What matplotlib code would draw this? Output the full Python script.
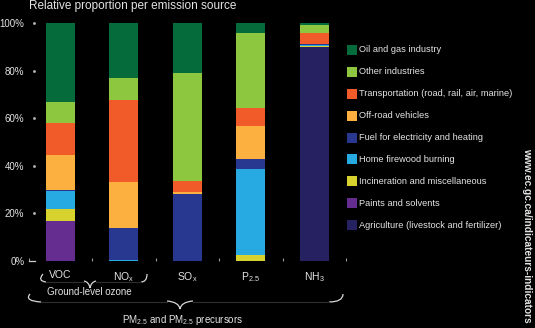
import matplotlib
matplotlib.use("Agg")
import matplotlib.pyplot as plt
from matplotlib.patches import Rectangle, PathPatch
from matplotlib.path import Path
import numpy as np

plt.rcParams['font.family'] = ['Liberation Sans', 'DejaVu Sans']
plt.rcParams['mathtext.default'] = 'regular'

# Pollutants (x categories)
pollutants = [r"VOC", r"NO$_x$", r"SO$_x$", r"P$_{2.5}$", r"NH$_3$"]

# Share of each emission source per pollutant (%)
oil_gas      = [33.3, 23.1, 20.9, 4.1, 0.7]
other_ind    = [8.8, 9.3, 45.5, 31.5, 3.5]
transport    = [13.5, 34.5, 4.5, 7.6, 4.6]
off_road     = [14.7, 19.4, 0.8, 13.9, 0.0]
fuel         = [0.4, 13.3, 28.3, 4.3, 0.4]
firewood     = [7.6, 0.4, 0.0, 36.1, 0.4]
incineration = [5.0, 0.0, 0.0, 2.5, 0.4]
paints       = [16.7, 0.0, 0.0, 0.0, 0.0]
agriculture  = [0.0, 0.0, 0.0, 0.0, 90.0]

source_labels = [
    "Oil and gas industry",
    "Other industries",
    "Transportation (road, rail, air, marine)",
    "Off-road vehicles",
    "Fuel for electricity and heating",
    "Home firewood burning",
    "Incineration and miscellaneous",
    "Paints and solvents",
    "Agriculture (livestock and fertilizer)",
]
source_values = [oil_gas, other_ind, transport, off_road, fuel,
                 firewood, incineration, paints, agriculture]
source_colors = ["#066b3a", "#8dc63f", "#f15a29", "#fbb040", "#283891",
                 "#27aae1", "#d7d22e", "#662d91", "#262262"]

y_ticks = [0, 20, 40, 60, 80, 100]

W, H = 535, 328
BG = "black"
FG = "#e4e4e4"

fig = plt.figure(figsize=(W / 100, H / 100), dpi=100, facecolor=BG)


def fx(x):
    return x / W


def fy(y):
    return 1 - y / H


ax_left, ax_right, ax_top, ax_bottom = 28.5, 346, 23, 261
ax = fig.add_axes([fx(ax_left), fy(ax_bottom), (ax_right - ax_left) / W,
                   (ax_bottom - ax_top) / H])
ax.set_facecolor(BG)

x = np.arange(len(pollutants))
bottom = np.zeros(len(pollutants))
# stack from the bottom of the legend upwards
for vals, col in zip(source_values[::-1], source_colors[::-1]):
    v = np.array(vals)
    ax.bar(x, v, bottom=bottom, width=0.457, color=col, linewidth=0)
    bottom += v

ax.set_xlim(-0.5, len(pollutants) - 0.5)
ax.set_ylim(0, 100)
for s in ax.spines.values():
    s.set_visible(False)

ax.set_yticks(y_ticks)
ax.set_yticklabels([f"{t}%" for t in y_ticks], color=FG, fontsize=7)
ax.tick_params(axis='y', length=0, pad=3)
ax.set_xticks(x)
ax.set_xticklabels(pollutants, color=FG, fontsize=7.5)
ax.tick_params(axis='x', length=0, pad=6.5)
ax.set_xticks(np.arange(-0.5, len(pollutants)), minor=True)
ax.tick_params(axis='x', which='minor', direction='in', length=2.5,
               width=0.8, color="#9a9a9a")

# small dot marks next to the percentage labels
for t in y_ticks[1:]:
    ax.plot([0.018], [t], marker='s', ms=0.9, color="#bbbbbb",
            transform=ax.get_yaxis_transform(), clip_on=False)
ax.plot([-0.0, 0.022], [0, 0], color="#cfcfcf", lw=0.9,
        transform=ax.get_yaxis_transform(), clip_on=False)

# title
fig.text(fx(29), fy(6), "Relative proportion per emission source",
         color=FG, fontsize=8.5, ha='left', va='center')

# legend
leg_x, leg_y0, leg_dy, box = 347, 50, 21.9, 10
for i, (lab, col) in enumerate(zip(source_labels, source_colors)):
    yc = leg_y0 + i * leg_dy
    fig.add_artist(Rectangle((fx(leg_x), fy(yc + box / 2)), box / W, box / H,
                             transform=fig.transFigure, facecolor=col,
                             edgecolor='none'))
    fig.text(fx(leg_x + 12), fy(yc), lab, color=FG, fontsize=6.7,
             ha='left', va='center')

# source url along the right edge
fig.text(fx(527), fy(235), "www.ec.gc.ca/indicateurs-indicators",
         color=FG, fontsize=7.3, fontweight='bold', rotation=-90,
         ha='center', va='center')


def brace(x0, x1, xc, y_end, y_line, y_tip, curl, half_v):
    """Horizontal curly brace opening upwards, tip pointing down."""
    tr = fig.transFigure
    P = lambda a, b: (fx(a), fy(b))
    left = Path([P(x0 + 3, y_end), P(x0 - 3, y_line - 1),
                 P(x0 + curl, y_line)],
                [Path.MOVETO, Path.CURVE3, Path.CURVE3])
    right = Path([P(x1, y_end), P(x1, y_line), P(x1 - curl, y_line)],
                 [Path.MOVETO, Path.CURVE3, Path.CURVE3])
    vee = Path([P(xc - half_v, y_line - 1), P(xc - 1, y_line),
                P(xc, y_tip), P(xc + 1, y_line), P(xc + half_v, y_line - 1)],
               [Path.MOVETO, Path.CURVE3, Path.CURVE3, Path.CURVE3,
                Path.CURVE3])
    for p in (left, right, vee):
        fig.add_artist(PathPatch(p, transform=tr, fill=False,
                                 edgecolor="#d8d8d8", lw=0.9))
    for a, b in ((x0 + curl, xc - half_v), (xc + half_v, x1 - curl)):
        fig.add_artist(plt.Line2D([fx(a), fx(b)], [fy(y_line), fy(y_line)],
                                  transform=tr, color="#2e2e2e", lw=0.8))


brace(40, 147, 90, 274, 282, 288, 6, 6)
fig.text(fx(89), fy(292), "Ground-level ozone", color=FG, fontsize=7,
         ha='center', va='center')
brace(27, 343, 180, 294, 302, 309, 14, 13)
fig.text(fx(183), fy(320), r"PM$_{2.5}$ and PM$_{2.5}$ precursors",
         color=FG, fontsize=7, ha='center', va='center')

fig.savefig("out.png", dpi=100, facecolor=BG)
